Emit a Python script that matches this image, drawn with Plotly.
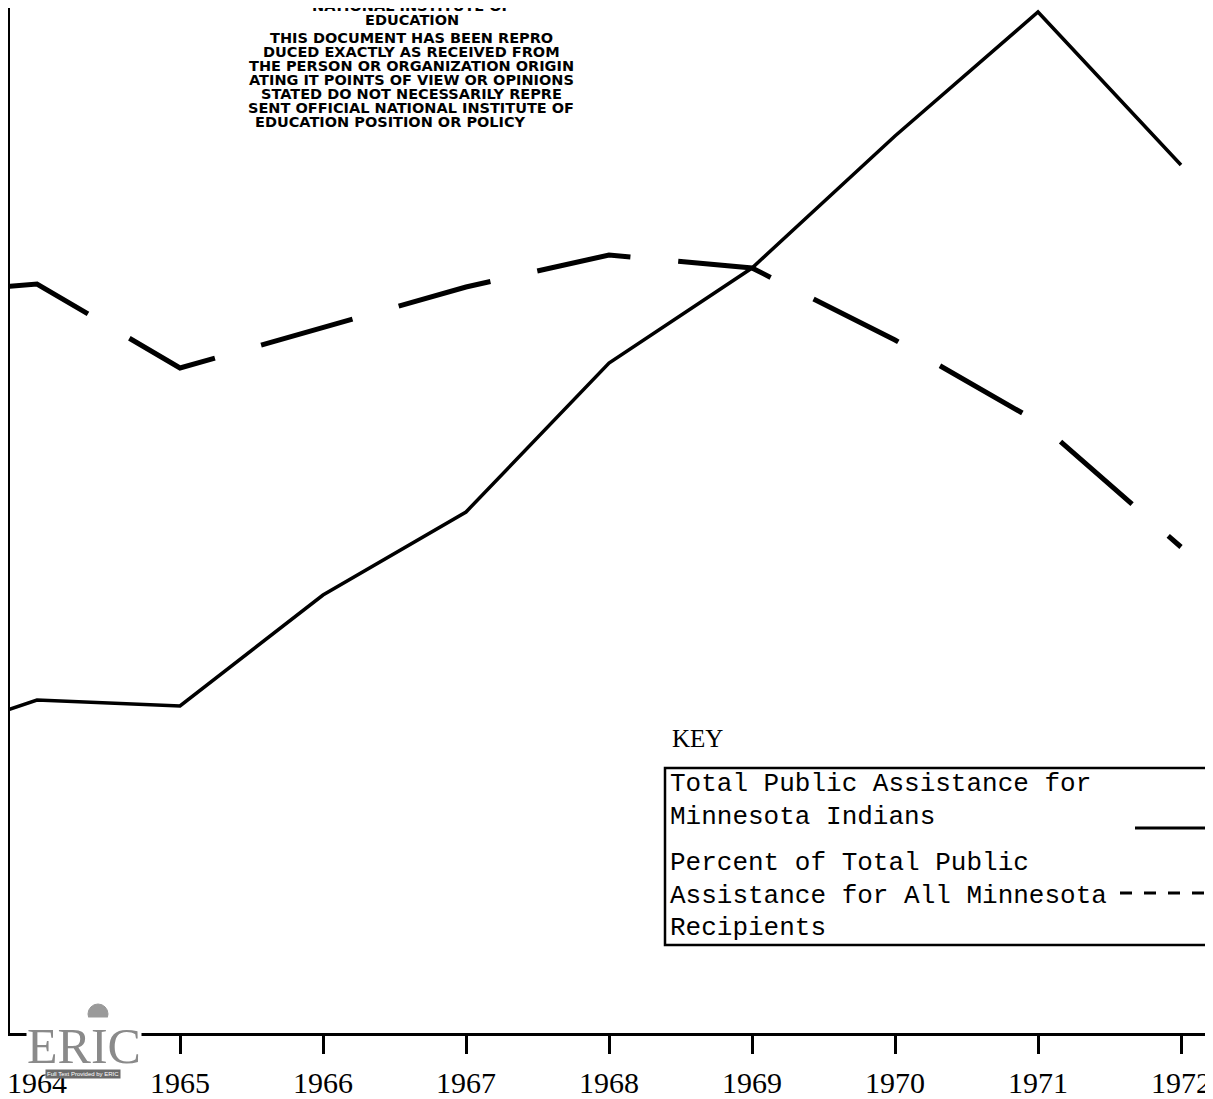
import plotly.graph_objects as go

# ---- data (y axis is unlabelled, relative units) ----
years = [1963.75, 1964, 1965, 1966, 1967, 1968, 1969, 1970, 1971, 1972]
total_assistance_indians = [32.1, 33.3, 32.7, 43.8, 52.1, 67.0, 76.5, 89.7, 102.1, 86.8]
percent_all_recipients = [74.6, 74.9, 66.5, 70.5, 74.6, 77.8, 76.5, 69.3, 61.1, 48.6]
tick_years = [1964, 1965, 1966, 1967, 1968, 1969, 1970, 1971, 1972]
tick_labels = ["1964", "1965", "1966", "1967", "1968", "1969", "1970", "1971", "1972"]

series_names = [
    "Total Public Assistance for Minnesota Indians",
    "Percent of Total Public Assistance for All Minnesota Recipients",
]

disclaimer_lines = [
    "NATIONAL INSTITUTE OF",
    "EDUCATION",
    "THIS DOCUMENT HAS BEEN REPRO",
    "DUCED EXACTLY AS RECEIVED FROM",
    "THE PERSON OR ORGANIZATION ORIGIN",
    "ATING IT POINTS OF VIEW OR OPINIONS",
    "STATED DO NOT NECESSARILY REPRE",
    "SENT OFFICIAL NATIONAL INSTITUTE OF",
    "EDUCATION POSITION OR POLICY",
]

W, H = 1197, 1091
ML, MB = 2, 66
PW, PH = W - ML, H - MB
OFF = 8  # page body margin


def px(page_x):
    return (page_x - OFF - ML) / PW


def py(page_y):
    return 1 - (page_y - OFF) / PH


fig = go.Figure()
fig.add_trace(go.Scatter(
    x=years, y=total_assistance_indians, mode="lines", name=series_names[0],
    line=dict(color="black", width=3.5),
))
fig.add_trace(go.Scatter(
    x=years, y=percent_all_recipients, mode="lines", name=series_names[1],
    line=dict(color="black", width=5, dash="95px,48px"),
))

x0 = 1964 - (37 - OFF - ML) / 143.0
x1 = x0 + PW / 143.0

fig.update_layout(
    width=W, height=H,
    margin=dict(l=ML, r=0, t=0, b=MB, autoexpand=False),
    paper_bgcolor="white", plot_bgcolor="white",
    showlegend=False,
    xaxis=dict(
        range=[x0, x1], showgrid=False, zeroline=False, automargin=False,
        showline=True, linecolor="black", linewidth=3,
        ticks="outside", ticklen=18, tickwidth=2.5, tickcolor="black",
        tickvals=tick_years, ticktext=tick_labels,
        tickfont=dict(family="Liberation Serif", size=30, color="black"),
        ticklabelstandoff=3, ticklabeloverflow="allow",
    ),
    yaxis=dict(
        range=[0, 102.5], showgrid=False, zeroline=False, automargin=False,
        showline=True, linecolor="black", linewidth=3,
        showticklabels=False, ticks="",
    ),
)

shapes = []
# key box
shapes.append(dict(type="rect", xref="paper", yref="paper",
                   x0=px(665), x1=px(1230), y0=py(945), y1=py(768),
                   line=dict(color="black", width=2.5), fillcolor="rgba(0,0,0,0)"))
# key samples
shapes.append(dict(type="line", xref="paper", yref="paper",
                   x0=px(1135), x1=px(1225), y0=py(828), y1=py(828),
                   line=dict(color="black", width=3)))
shapes.append(dict(type="line", xref="paper", yref="paper",
                   x0=px(1120), x1=px(1225), y0=py(893), y1=py(893),
                   line=dict(color="black", width=3, dash="12px,12px")))
# ERIC logo globe
shapes.append(dict(type="circle", xref="paper", yref="paper",
                   x0=px(88), x1=px(108), y0=py(1024), y1=py(1004),
                   line=dict(color="#999999", width=1), fillcolor="#9a9a9a"))
fig.update_layout(shapes=shapes)

ann = []
mono = "Liberation Mono"
ann.append(dict(text="KEY", x=px(670), y=py(738), xref="paper", yref="paper",
                xanchor="left", yanchor="middle", showarrow=False,
                font=dict(family="Liberation Serif", size=25, color="black")))
key_text = [
    ("Total Public Assistance for", 784),
    ("Minnesota Indians", 817),
    ("Percent of Total Public", 863),
    ("Assistance for All Minnesota", 896),
    ("Recipients", 928),
]
for t, yy in key_text:
    ann.append(dict(text=t, x=px(668), y=py(yy), xref="paper", yref="paper",
                    xanchor="left", yanchor="middle", showarrow=False,
                    font=dict(family=mono, size=26, color="black")))

disc_y = [6, 20, 38, 52, 66, 80, 94, 108, 122]
for i, (t, yy) in enumerate(zip(disclaimer_lines, disc_y)):
    if i < 2:
        xa, xx = "center", 412
    elif i == len(disclaimer_lines) - 1:
        xa, xx = "left", 253
    else:
        xa, xx = "center", 411
    ann.append(dict(text="<b>" + t + "</b>", x=px(xx), y=py(yy), xref="paper", yref="paper",
                    xanchor=xa, yanchor="middle", showarrow=False,
                    font=dict(family="DejaVu Sans", size=14.5, color="black")))

# ERIC logo (decorative)
ann.append(dict(text="ERIC", x=px(84), y=py(1046), xref="paper", yref="paper",
                xanchor="center", yanchor="middle", showarrow=False,
                bgcolor="white", borderpad=0,
                font=dict(family="Liberation Serif", size=50, color="#8a8a8a")))
ann.append(dict(text="Full Text Provided by ERIC", x=px(83), y=py(1074), xref="paper", yref="paper",
                xanchor="center", yanchor="middle", showarrow=False,
                bgcolor="#6a6a6a", borderpad=1,
                font=dict(family="Liberation Sans", size=6, color="white")))
fig.update_layout(annotations=ann)

fig.write_html("out.html")
